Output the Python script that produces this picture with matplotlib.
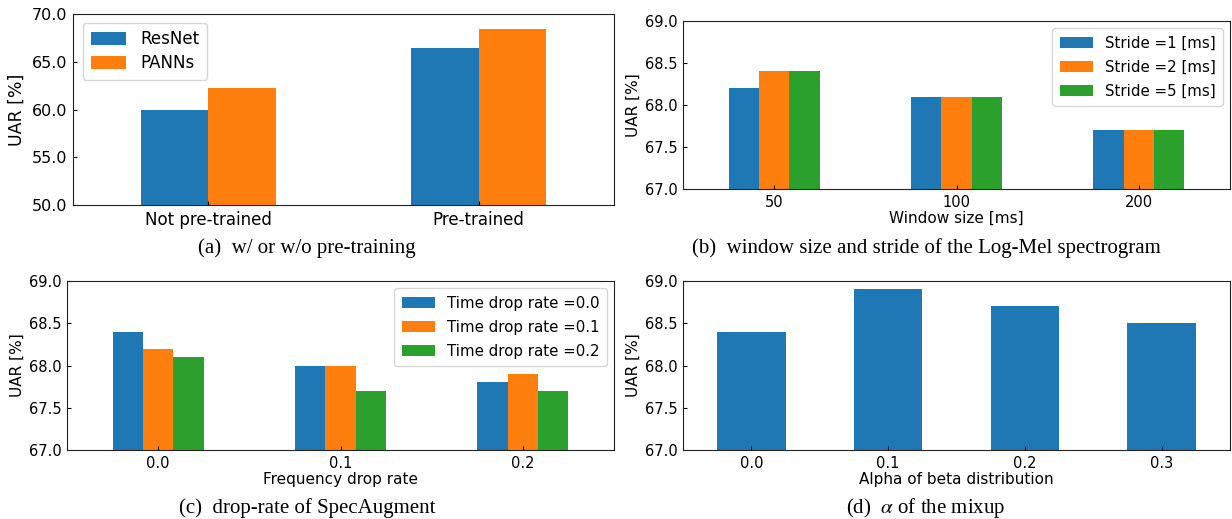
import numpy as np
import matplotlib.pyplot as plt

plt.rcParams['mathtext.fontset'] = 'stix'

# (a) pre-training
pre_labels = ['Not pre-trained', 'Pre-trained']
resnet_uar = [60.0, 66.4]
panns_uar = [62.3, 68.4]

# (b) window size / stride
window_labels = ['50', '100', '200']
stride1_uar = [68.2, 68.1, 67.7]
stride2_uar = [68.4, 68.1, 67.7]
stride5_uar = [68.4, 68.1, 67.7]

# (c) SpecAugment drop rate
freq_labels = ['0.0', '0.1', '0.2']
time00_uar = [68.4, 68.0, 67.8]
time01_uar = [68.2, 68.0, 67.9]
time02_uar = [68.1, 67.7, 67.7]

# (d) mixup alpha
alpha_labels = ['0.0', '0.1', '0.2', '0.3']
alpha_uar = [68.4, 68.9, 68.7, 68.5]

colors = ['#1f77b4', '#ff7f0e', '#2ca02c']


def grouped_bars(ax, series, names, labels):
    n = len(series)
    w = 0.5 / n
    x = np.arange(len(labels))
    for i, (vals, name) in enumerate(zip(series, names)):
        ax.bar(x - 0.25 + w * (i + 0.5), vals, w, color=colors[i], label=name)
    ax.set_xticks(x)
    ax.set_xticklabels(labels)
    ax.set_xlim(-0.5, len(labels) - 0.5)


def style(ax, fs, lo, hi, step):
    ticks = np.arange(lo, hi + step / 10, step)
    ax.set_ylim(lo, hi)
    ax.set_yticks(ticks)
    ax.set_yticklabels(['%.1f' % v for v in ticks])
    ax.tick_params(direction='in', length=3, labelsize=fs, pad=4)
    for s in ax.spines.values():
        s.set_color('#222222')


small_legend = dict(loc='upper right', bbox_to_anchor=(0.987, 0.958), borderaxespad=0,
                    fontsize=10.8, handlelength=2.2, handletextpad=0.8,
                    labelspacing=0.6, borderpad=0.5)

fig = plt.figure(figsize=(12.32, 5.19), dpi=100)

# (a)
ax = fig.add_axes([0.0593, 0.605, 0.4391, 0.368])
grouped_bars(ax, [resnet_uar, panns_uar], ['ResNet', 'PANNs'], pre_labels)
style(ax, 11.5, 50, 70, 5)
ax.tick_params(axis='x', labelsize=12)
ax.set_ylabel('UAR [%]', fontsize=12.5)
ax.yaxis.set_label_coords(-0.087, 0.5)
ax.legend(loc='upper left', bbox_to_anchor=(0.0185, 0.953), borderaxespad=0,
          fontsize=12, handlelength=2.15, handleheight=0.8, borderpad=0.45,
          labelspacing=0.35, handletextpad=0.85)

# (b)
ax = fig.add_axes([0.5544, 0.6358, 0.444, 0.3237])
grouped_bars(ax, [stride1_uar, stride2_uar, stride5_uar],
             ['Stride =1 [ms]', 'Stride =2 [ms]', 'Stride =5 [ms]'], window_labels)
style(ax, 10.5, 67, 69, 0.5)
ax.set_ylabel('UAR [%]', fontsize=11)
ax.yaxis.set_label_coords(-0.077, 0.5)
ax.set_xlabel('Window size [ms]', fontsize=11, labelpad=1)
ax.legend(**small_legend)

# (c)
ax = fig.add_axes([0.0544, 0.1329, 0.444, 0.3256])
grouped_bars(ax, [time00_uar, time01_uar, time02_uar],
             ['Time drop rate =0.0', 'Time drop rate =0.1', 'Time drop rate =0.2'],
             freq_labels)
style(ax, 10.5, 67, 69, 0.5)
ax.set_ylabel('UAR [%]', fontsize=11)
ax.yaxis.set_label_coords(-0.077, 0.5)
ax.set_xlabel('Frequency drop rate', fontsize=11, labelpad=1)
ax.legend(**small_legend)

# (d)
ax = fig.add_axes([0.5544, 0.1329, 0.444, 0.3256])
ax.bar(np.arange(len(alpha_labels)), alpha_uar, 0.5, color=colors[0])
ax.set_xticks(np.arange(len(alpha_labels)))
ax.set_xticklabels(alpha_labels)
ax.set_xlim(-0.5, len(alpha_labels) - 0.5)
style(ax, 10.5, 67, 69, 0.5)
ax.set_ylabel('UAR [%]', fontsize=11)
ax.yaxis.set_label_coords(-0.077, 0.5)
ax.set_xlabel('Alpha of beta distribution', fontsize=11, labelpad=1)

# captions
cap = dict(family='Liberation Serif', fontsize=15, ha='center', va='center')
fig.text(307 / 1232, 1 - 248 / 519, '(a)  w/ or w/o pre-training', **cap)
fig.text(926 / 1232, 1 - 248 / 519, '(b)  window size and stride of the Log-Mel spectrogram', **cap)
fig.text(307 / 1232, 1 - 508 / 519, '(c)  drop-rate of SpecAugment', **cap)
fig.text(926 / 1232, 1 - 508 / 519, r'(d)  $\alpha$ of the mixup', **cap)

fig.savefig('out.png', dpi=100)
